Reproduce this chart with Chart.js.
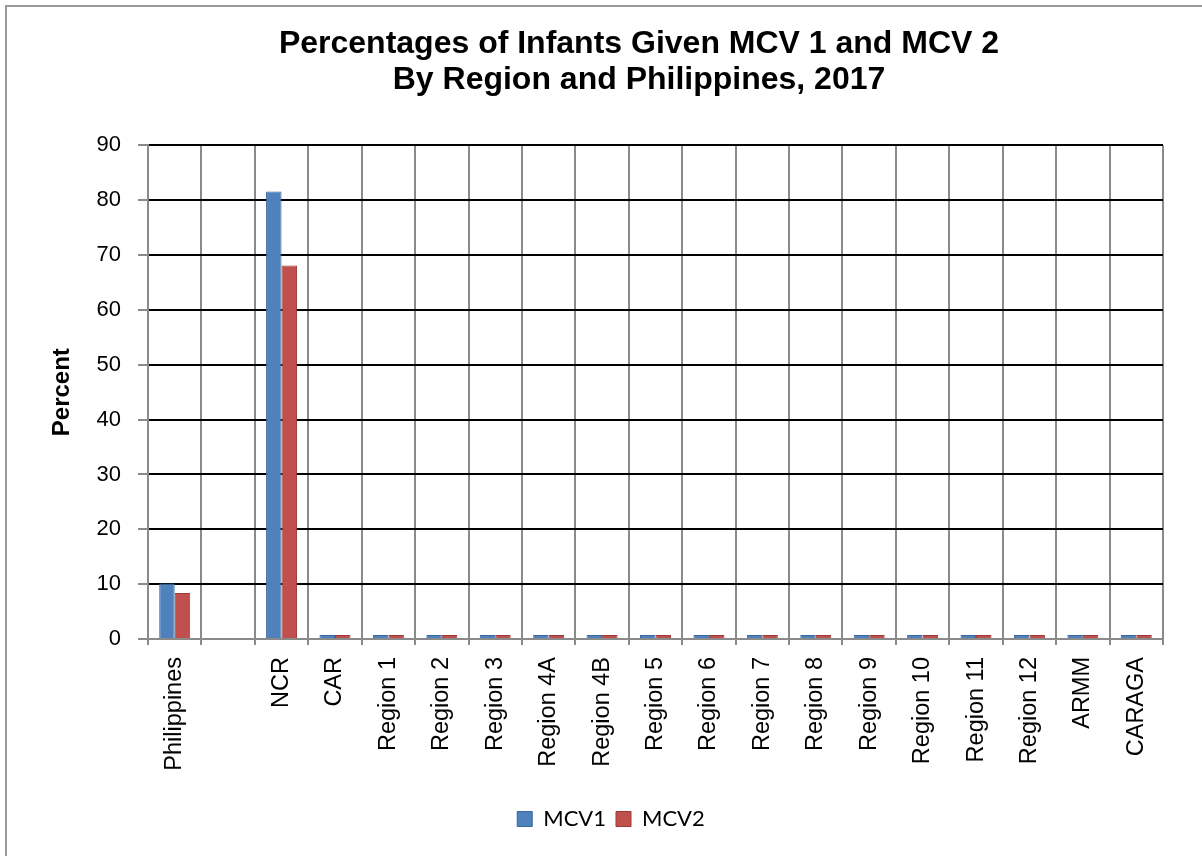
<!DOCTYPE html>
<html>
<head>
<meta charset="utf-8">
<script src="https://cdn.jsdelivr.net/npm/chart.js@4/dist/chart.umd.min.js"></script>
<style>
  html, body { margin: 0; padding: 0; background: #fff; overflow: hidden; }
  #wrap { position: relative; width: 1202px; height: 856px; }
  #frame { position: absolute; left: 5px; top: 5px; width: 1300px; height: 1000px; border: 2px solid #999; pointer-events: none; }
  canvas { position: absolute; left: 0; top: 0; }
</style>
</head>
<body>
<div id="wrap">
  <canvas id="c" width="1202" height="856"></canvas>
  <div id="frame"></div>
</div>
<script>
const categories = ['Philippines', '', 'NCR', 'CAR', 'Region 1', 'Region 2', 'Region 3', 'Region 4A', 'Region 4B', 'Region 5', 'Region 6', 'Region 7', 'Region 8', 'Region 9', 'Region 10', 'Region 11', 'Region 12', 'ARMM', 'CARAGA'];
const mcv1 = [10.1, null, 81.6, 0, 0, 0, 0, 0, 0, 0, 0, 0, 0, 0, 0, 0, 0, 0, 0];
const mcv2 = [8.4, null, 68.1, 0, 0, 0, 0, 0, 0, 0, 0, 0, 0, 0, 0, 0, 0, 0, 0];
const seriesNames = ['MCV1', 'MCV2'];
const yMin = 0, yMax = 90, yStep = 10;
const titleLines = ['Percentages of Infants Given MCV 1 and MCV 2', 'By Region and Philippines, 2017'];
const yTitle = 'Percent';

const shiftPlugin = {
  id: 'shift',
  afterLayout(chart) {
    if (chart.titleBlock) chart.titleBlock.left += 115;
    if (chart.legend) chart.legend.left += 59;
  }
};

new Chart(document.getElementById('c'), {
  type: 'bar',
  data: {
    labels: categories,
    datasets: [
      { label: seriesNames[0], data: mcv1, backgroundColor: '#4F81BD', borderColor: '#3B679C', borderWidth: 1, borderSkipped: 'bottom', minBarLength: 4 },
      { label: seriesNames[1], data: mcv2, backgroundColor: '#C0504D', borderColor: '#9C3A37', borderWidth: 1, borderSkipped: 'bottom', minBarLength: 4 }
    ]
  },
  options: {
    responsive: false,
    animation: false,
    layout: { padding: { left: 0, right: 39, top: 0, bottom: 16 } },
    datasets: { bar: { categoryPercentage: 0.58, barPercentage: 1.0 } },
    plugins: {
      title: {
        display: true,
        text: titleLines,
        color: '#000',
        font: { family: 'Liberation Sans, Arial, sans-serif', size: 32, weight: 'bold', lineHeight: 1.13 },
        padding: { top: 26, bottom: 47 }
      },
      legend: {
        display: true,
        position: 'bottom',
        labels: {
          color: '#000',
          font: { family: 'Lato, Open Sans, sans-serif', size: 22 },
          boxWidth: 15, boxHeight: 15, padding: 10, useBorderRadius: false
        }
      },
      tooltip: { enabled: false }
    },
    scales: {
      x: {
        offset: true,
        grid: { display: true, offset: true, color: '#8a8a8a', lineWidth: 2, tickLength: 6, drawOnChartArea: true },
        border: { display: true, color: '#8a8a8a', width: 2 },
        ticks: {
          color: '#000', autoSkip: false, maxRotation: 90, minRotation: 90, padding: 12,
          font: { family: 'Liberation Sans, Arial, sans-serif', size: 23.5 }
        },
        afterFit(scale) { scale.height = 159; }
      },
      y: {
        min: yMin, max: yMax,
        ticks: {
          stepSize: yStep, color: '#000', padding: 17,
          font: { family: 'Liberation Sans, Arial, sans-serif', size: 22 }
        },
        grid: {
          color: (ctx) => (ctx.tick && ctx.tick.value === 0) ? '#8a8a8a' : '#000',
          tickColor: '#8a8a8a',
          lineWidth: 2, tickLength: 10
        },
        border: { display: true, color: '#8a8a8a', width: 2 },
        title: {
          display: true, text: yTitle, color: '#000',
          font: { family: 'Liberation Sans, Arial, sans-serif', size: 24, weight: 'bold' },
          padding: { top: 48, bottom: 0 }
        },
        afterFit(scale) { scale.width = 148; }
      }
    }
  },
  plugins: [shiftPlugin]
});
</script>
</body>
</html>
